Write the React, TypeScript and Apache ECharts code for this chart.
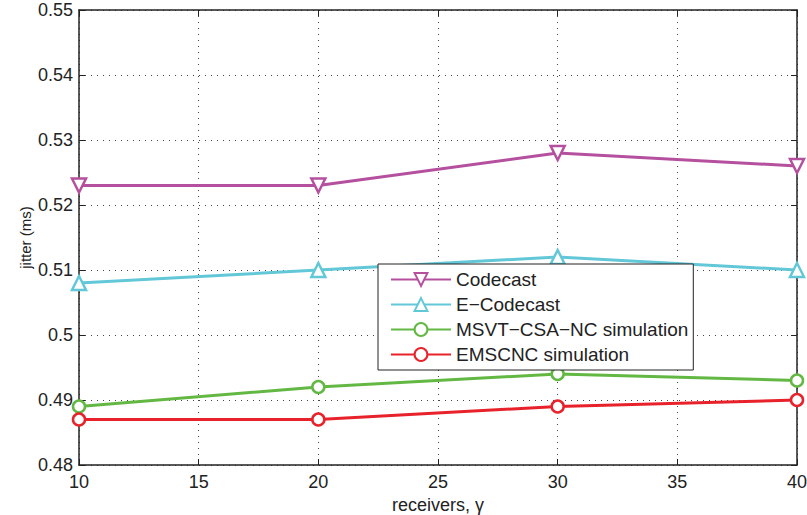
import React, { useEffect, useRef } from "react";
import * as echarts from "echarts";

const receivers = [10, 20, 30, 40];
const codecast = [0.523, 0.523, 0.528, 0.526];
const eCodecast = [0.508, 0.51, 0.512, 0.51];
const msvt = [0.489, 0.492, 0.494, 0.493];
const emscnc = [0.487, 0.487, 0.489, 0.49];
const seriesNames = ["Codecast", "E\u2212Codecast", "MSVT\u2212CSA\u2212NC simulation", "EMSCNC simulation"];
const colors = ["#b5509f", "#62c8d8", "#63b844", "#e8222b"];

const FONT = "Liberation Sans";

export default function App() {
  const ref = useRef<HTMLDivElement>(null);
  useEffect(() => {
    if (!ref.current) return;
    const chart = echarts.init(ref.current, null, { renderer: "svg" });
    const mk = (name: string, data: number[], color: string, symbol: string, rotate: number, size: number) => ({
      name,
      type: "line",
      data: receivers.map((r, i) => [r, data[i]]),
      symbol,
      symbolRotate: rotate,
      symbolSize: size,
      color,
      lineStyle: { color, width: 3 },
      itemStyle: { color: "#fff", borderColor: color, borderWidth: 2.5 },
      showAllSymbol: true,
      z: 3,
    });
    const axisLine = { show: true, lineStyle: { color: "#222", width: 1.5 } };
    const tick = { show: true, inside: true, length: 6, lineStyle: { color: "#222", width: 1 } };
    const split = { show: true, lineStyle: { color: "#444", width: 1, type: [1, 5] as any } };
    chart.setOption({
      animation: false,
      backgroundColor: "#fff",
      grid: { left: 79, right: 10, top: 10, bottom: 50, containLabel: false, outerBoundsMode: "none" },
      xAxis: [
        {
          type: "value",
          min: 10,
          max: 40,
          interval: 5,
          name: "receivers, \u03b3",
          nameLocation: "middle",
          nameGap: 31,
          nameMoveOverlap: false,
          nameTextStyle: { fontFamily: FONT, fontSize: 18, color: "#222" },
          axisLine,
          axisTick: tick,
          axisLabel: { fontFamily: FONT, fontSize: 18, color: "#222", margin: 8 },
          splitLine: split,
        },
        {
          type: "value",
          position: "top",
          min: 10,
          max: 40,
          interval: 5,
          axisLine,
          axisTick: tick,
          axisLabel: { show: false },
          splitLine: { show: false },
        },
      ],
      yAxis: [
        {
          type: "value",
          min: 0.48,
          max: 0.55,
          interval: 0.01,
          name: "jitter (ms)",
          nameLocation: "middle",
          nameGap: 46,
          nameMoveOverlap: false,
          nameTextStyle: { fontFamily: FONT, fontSize: 15, color: "#222" },
          axisLine,
          axisTick: tick,
          axisLabel: {
            fontFamily: FONT,
            fontSize: 18,
            color: "#222",
            margin: 6,
            formatter: (v: number) => String(parseFloat(v.toFixed(3))),
          },
          splitLine: split,
        },
        {
          type: "value",
          position: "right",
          min: 0.48,
          max: 0.55,
          interval: 0.01,
          axisLine,
          axisTick: tick,
          axisLabel: { show: false },
          splitLine: { show: false },
        },
      ],
      legend: {
        orient: "vertical",
        left: 378,
        top: 264,
        padding: [6, 5, 6, 12],
        itemGap: 6,
        itemWidth: 60,
        itemHeight: 16,
        backgroundColor: "#fff",
        borderColor: "#222",
        borderWidth: 1,
        borderRadius: 0,
        textStyle: { fontFamily: FONT, fontSize: 19, color: "#222" },
        data: seriesNames,
      },
      series: [
        mk(seriesNames[0], codecast, colors[0], "triangle", 180, 14),
        mk(seriesNames[1], eCodecast, colors[1], "triangle", 0, 14),
        mk(seriesNames[2], msvt, colors[2], "circle", 0, 12),
        mk(seriesNames[3], emscnc, colors[3], "circle", 0, 12),
      ],
    });
    return () => chart.dispose();
  }, []);
  return <div ref={ref} style={{ width: 807, height: 515, position: "absolute", left: 0, top: 0 }} />;
}
